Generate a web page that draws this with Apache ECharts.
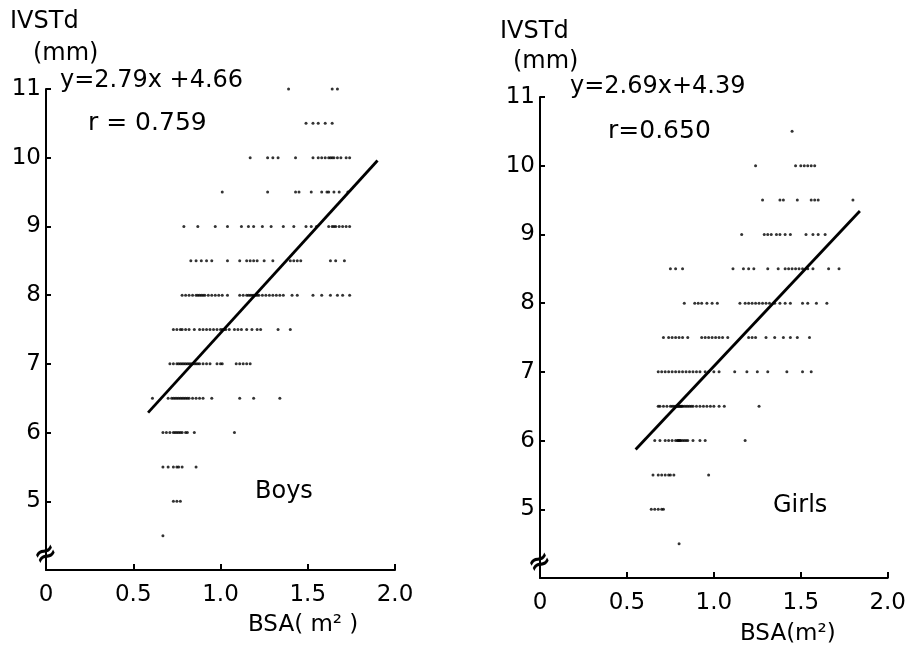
<!DOCTYPE html>
<html>
<head>
<meta charset="utf-8">
<script src="https://cdn.jsdelivr.net/npm/echarts@6/dist/echarts.min.js"></script>
<style>
html,body{margin:0;padding:0;background:#fff;}
#chart{width:909px;height:649px;}
</style>
</head>
<body>
<div id="chart"></div>
<script>
// ---- Data ----
const yTicks = [5, 6, 7, 8, 9, 10, 11];
const xTicks = [0, 0.5, 1.0, 1.5, 2.0];
const xTickLabels = ['0', '0.5', '1.0', '1.5', '2.0'];

const boysLevels = [11, 10.5, 10, 9.5, 9, 8.5, 8, 7.5, 7, 6.5, 6, 5.5, 5, 4.5];
const boysBSA = [
  [1.39, 1.64, 1.67],
  [1.49, 1.53, 1.56, 1.60, 1.64],
  [1.17, 1.27, 1.30, 1.33, 1.43, 1.53, 1.56, 1.58, 1.60, 1.62, 1.63, 1.64, 1.65, 1.67, 1.69, 1.72, 1.74],
  [1.01, 1.27, 1.43, 1.45, 1.52, 1.58, 1.61, 1.62, 1.65, 1.68, 1.73],
  [0.79, 0.87, 0.97, 1.04, 1.12, 1.16, 1.19, 1.24, 1.29, 1.36, 1.42, 1.49, 1.52, 1.55, 1.62, 1.64, 1.65, 1.66, 1.68, 1.70, 1.72, 1.74],
  [0.83, 0.86, 0.89, 0.92, 0.95, 1.04, 1.11, 1.15, 1.17, 1.19, 1.21, 1.25, 1.30, 1.40, 1.42, 1.44, 1.46, 1.63, 1.66, 1.71],
  [0.78, 0.80, 0.82, 0.84, 0.86, 0.87, 0.88, 0.89, 0.90, 0.91, 0.93, 0.95, 0.97, 0.99, 1.01, 1.04, 1.11, 1.13, 1.15, 1.16, 1.17, 1.18, 1.19, 1.20, 1.21, 1.22, 1.24, 1.26, 1.28, 1.30, 1.32, 1.34, 1.36, 1.41, 1.44, 1.53, 1.58, 1.63, 1.67, 1.70, 1.74],
  [0.73, 0.75, 0.77, 0.78, 0.80, 0.82, 0.85, 0.88, 0.90, 0.92, 0.94, 0.96, 0.98, 1.00, 1.01, 1.02, 1.03, 1.05, 1.08, 1.10, 1.12, 1.15, 1.18, 1.21, 1.23, 1.33, 1.40],
  [0.71, 0.73, 0.75, 0.76, 0.77, 0.78, 0.79, 0.80, 0.81, 0.82, 0.83, 0.84, 0.85, 0.86, 0.87, 0.88, 0.90, 0.92, 0.94, 0.98, 1.00, 1.01, 1.09, 1.11, 1.13, 1.15, 1.17],
  [0.61, 0.70, 0.72, 0.73, 0.74, 0.75, 0.76, 0.77, 0.78, 0.79, 0.80, 0.81, 0.82, 0.84, 0.86, 0.88, 0.90, 0.95, 1.11, 1.19, 1.34],
  [0.67, 0.69, 0.71, 0.73, 0.74, 0.75, 0.76, 0.77, 0.78, 0.80, 0.81, 0.85, 1.08],
  [0.67, 0.70, 0.73, 0.75, 0.76, 0.78, 0.86],
  [0.73, 0.75, 0.77],
  [0.67]
];
const boysFitX = [0.585, 1.90];
const boysFitY = [6.29, 9.96];

const girlsLevels = [10.5, 10, 9.5, 9, 8.5, 8, 7.5, 7, 6.5, 6, 5.5, 5, 4.5];
const girlsBSA = [
  [1.45],
  [1.24, 1.47, 1.50, 1.52, 1.54, 1.56, 1.58],
  [1.28, 1.38, 1.40, 1.48, 1.56, 1.58, 1.60, 1.80],
  [1.16, 1.29, 1.31, 1.33, 1.36, 1.38, 1.41, 1.44, 1.53, 1.57, 1.60, 1.64],
  [0.75, 0.78, 0.82, 1.11, 1.17, 1.20, 1.23, 1.31, 1.37, 1.41, 1.43, 1.45, 1.47, 1.49, 1.51, 1.54, 1.57, 1.66, 1.72],
  [0.83, 0.89, 0.91, 0.93, 0.96, 0.99, 1.02, 1.15, 1.18, 1.20, 1.22, 1.24, 1.26, 1.28, 1.30, 1.32, 1.35, 1.38, 1.41, 1.44, 1.51, 1.54, 1.59, 1.65],
  [0.71, 0.74, 0.76, 0.78, 0.80, 0.82, 0.85, 0.93, 0.95, 0.97, 0.99, 1.01, 1.03, 1.05, 1.08, 1.20, 1.22, 1.24, 1.30, 1.35, 1.40, 1.44, 1.48, 1.55],
  [0.68, 0.70, 0.72, 0.74, 0.76, 0.78, 0.80, 0.82, 0.84, 0.86, 0.88, 0.90, 0.92, 0.95, 0.97, 1.00, 1.03, 1.12, 1.19, 1.25, 1.31, 1.42, 1.51, 1.56],
  [0.68, 0.69, 0.71, 0.73, 0.75, 0.76, 0.77, 0.78, 0.785, 0.79, 0.795, 0.80, 0.805, 0.81, 0.815, 0.82, 0.83, 0.84, 0.85, 0.86, 0.87, 0.88, 0.90, 0.92, 0.94, 0.96, 0.98, 1.00, 1.03, 1.06, 1.26],
  [0.66, 0.69, 0.72, 0.74, 0.76, 0.78, 0.79, 0.795, 0.80, 0.805, 0.81, 0.82, 0.83, 0.84, 0.85, 0.88, 0.92, 0.95, 1.18],
  [0.65, 0.68, 0.70, 0.72, 0.74, 0.75, 0.77, 0.97],
  [0.64, 0.66, 0.68, 0.70, 0.71],
  [0.80]
];
const girlsFitX = [0.55, 1.84];
const girlsFitY = [5.87, 9.34];

// ---- Build series data ----
function toPoints(levels, bsa) {
  const pts = [];
  levels.forEach((lv, i) => bsa[i].forEach(x => pts.push([x, lv])));
  return pts;
}
function toLine(xs, ys) { return xs.map((x, i) => [x, ys[i]]); }

const FONT = 'DejaVu Sans';
const black = '#000';

function xAxisCfg(gridIndex) {
  return {
    gridIndex, type: 'value', min: 0, max: 2, interval: 0.5,
    axisLine: { show: true, onZero: false, lineStyle: { color: black, width: 2 } },
    axisTick: { show: true, inside: true, length: 6, lineStyle: { color: black, width: 2 }, customValues: xTicks },
    axisLabel: { color: black, fontSize: 23, fontFamily: FONT, margin: 14,
      customValues: xTicks,
      formatter: v => xTickLabels[xTicks.indexOf(v)] },
    splitLine: { show: false }
  };
}
function yAxisCfg(gridIndex) {
  return {
    gridIndex, type: 'value', min: 4, max: 11, interval: 1,
    axisLine: { show: true, onZero: false, lineStyle: { color: black, width: 2 } },
    axisTick: { show: true, inside: true, length: 5, lineStyle: { color: black, width: 2 }, customValues: yTicks },
    axisLabel: { color: black, fontSize: 23, fontFamily: FONT, margin: 5, customValues: yTicks },
    splitLine: { show: false }
  };
}

const chart = echarts.init(document.getElementById('chart'), null, { renderer: 'canvas' });

const scatterStyle = { color: black };
const option = {
  animation: false,
  backgroundColor: '#fff',
  textStyle: { fontFamily: FONT },
  grid: [
    { left: 46, top: 89, width: 349, height: 481 },
    { left: 540, top: 97, width: 348, height: 481 }
  ],
  xAxis: [xAxisCfg(0), xAxisCfg(1)],
  yAxis: [yAxisCfg(0), yAxisCfg(1)],
  series: [
    { type: 'scatter', xAxisIndex: 0, yAxisIndex: 0, symbol: 'circle', symbolSize: 3,
      itemStyle: scatterStyle, data: toPoints(boysLevels, boysBSA) },
    { type: 'line', xAxisIndex: 0, yAxisIndex: 0, showSymbol: false, symbol: 'none',
      lineStyle: { color: black, width: 2.8 }, data: toLine(boysFitX, boysFitY) },
    { type: 'scatter', xAxisIndex: 1, yAxisIndex: 1, symbol: 'circle', symbolSize: 3,
      itemStyle: scatterStyle, data: toPoints(girlsLevels, girlsBSA) },
    { type: 'line', xAxisIndex: 1, yAxisIndex: 1, showSymbol: false, symbol: 'none',
      lineStyle: { color: black, width: 2.8 }, data: toLine(girlsFitX, girlsFitY) }
  ]
};
chart.setOption(option);

// ---- Annotations ----
function txt(x, y, s, size) {
  return { type: 'text', left: x, top: y, style: { text: s, fill: black, font: size + 'px "' + FONT + '"' } };
}
const p0 = chart.convertToPixel({ gridIndex: 0 }, [0, 4.22]);
const p1 = chart.convertToPixel({ gridIndex: 1 }, [0, 4.22]);
function breakMark(p) {
  return { type: 'text', x: p[0], y: p[1], rotation: 0.5,
    style: { text: '≈', fill: black, font: 'bold 28px "' + FONT + '"', align: 'center', verticalAlign: 'middle' } };
}
chart.setOption({
  graphic: [
    txt(10, 10, 'IVSTd', 24),
    txt(33, 42, '(mm)', 24),
    txt(60, 69, 'y=2.79x +4.66', 24),
    txt(88, 111, 'r = 0.759', 25),
    txt(255, 480, 'Boys', 24),
    txt(248, 614, 'BSA( m² )', 23),
    txt(500, 20, 'IVSTd', 24),
    txt(513, 50, '(mm)', 24),
    txt(570, 75, 'y=2.69x+4.39', 24),
    txt(608, 119, 'r=0.650', 25),
    txt(773, 494, 'Girls', 24),
    txt(740, 623, 'BSA(m²)', 23),
    breakMark(p0),
    breakMark(p1)
  ]
});
</script>
</body>
</html>
